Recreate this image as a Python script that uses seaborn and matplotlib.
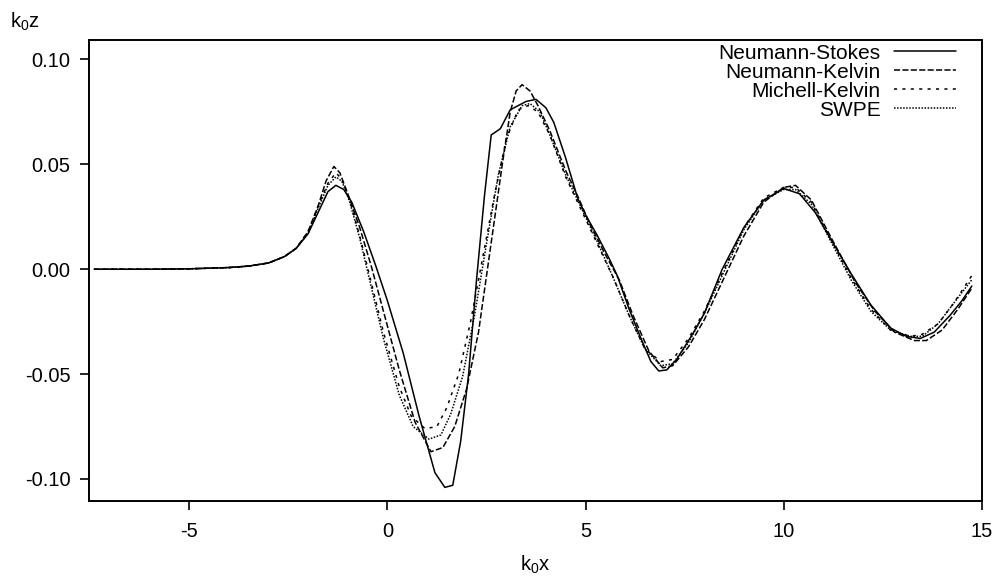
import numpy as np
import pandas as pd
import matplotlib
matplotlib.use("Agg")
import matplotlib.pyplot as plt
import seaborn as sns

# ---- data ----
ns_x = [-7.4, -6, -5, -4, -3.5, -3, -2.6, -2.3, -2.0, -1.75, -1.5, -1.3, -1.1, -0.9, -0.6, -0.3,
        0.0, 0.4, 0.8, 1.2, 1.45, 1.65, 1.85, 2.05, 2.25, 2.45, 2.62, 2.85, 3.1, 3.5, 3.75, 4.0,
        4.2, 4.5, 4.8, 5.0, 5.3, 5.6, 5.8, 6.1, 6.4, 6.65, 6.85, 7.05, 7.3, 7.7, 8.0, 8.45, 9.0,
        9.5, 10.0, 10.4, 10.8, 11.2, 11.7, 12.2, 12.7, 13.1, 13.45, 13.8, 14.2, 14.5, 14.75]
ns_y = [0, 0, 0.0002, 0.0008, 0.0015, 0.003, 0.006, 0.010, 0.017, 0.027, 0.037, 0.040, 0.038, 0.032,
        0.018, 0.002, -0.015, -0.040, -0.070, -0.097, -0.104, -0.103, -0.082, -0.050, -0.005, 0.035,
        0.064, 0.067, 0.076, 0.080, 0.081, 0.077, 0.070, 0.053, 0.034, 0.026, 0.016, 0.005, -0.003,
        -0.019, -0.033, -0.044, -0.0485, -0.048, -0.043, -0.031, -0.021, 0.0, 0.020, 0.033, 0.0385,
        0.036, 0.027, 0.014, -0.002, -0.017, -0.028, -0.032, -0.033, -0.030, -0.022, -0.015, -0.008]

nk_x = [-7.4, -6, -5, -4, -3.5, -3, -2.6, -2.3, -2.0, -1.75, -1.55, -1.35, -1.2, -1.0, -0.7, -0.4,
        -0.1, 0.3, 0.7, 1.1, 1.4, 1.7, 2.0, 2.3, 2.6, 2.9, 3.1, 3.25, 3.4, 3.6, 3.8, 4.1, 4.5, 4.8,
        5.1, 5.5, 5.85, 6.2, 6.6, 6.95, 7.2, 7.6, 8.0, 8.5, 9.0, 9.5, 10.0, 10.3, 10.7, 11.2, 11.8,
        12.3, 12.8, 13.3, 13.6, 14.0, 14.4, 14.75]
nk_y = [0, 0, 0.0002, 0.0008, 0.0015, 0.003, 0.006, 0.010, 0.018, 0.030, 0.042, 0.049, 0.046, 0.036,
        0.020, 0.001, -0.020, -0.048, -0.073, -0.087, -0.085, -0.075, -0.057, -0.030, 0.010, 0.050,
        0.075, 0.085, 0.088, 0.085, 0.078, 0.066, 0.047, 0.035, 0.022, 0.007, -0.005, -0.022, -0.039,
        -0.047, -0.046, -0.037, -0.024, -0.004, 0.016, 0.032, 0.039, 0.040, 0.033, 0.015, -0.006,
        -0.020, -0.030, -0.034, -0.034, -0.029, -0.019, -0.009]

mk_x = [-7.4, -6, -5, -4, -3.5, -3, -2.6, -2.3, -2.0, -1.75, -1.5, -1.3, -1.15, -0.95, -0.7, -0.45,
        -0.1, 0.3, 0.6, 0.95, 1.25, 1.5, 1.8, 2.1, 2.4, 2.7, 3.0, 3.3, 3.55, 3.8, 4.1, 4.5, 4.9, 5.3,
        5.7, 6.1, 6.5, 6.9, 7.2, 7.6, 8.0, 8.5, 9.0, 9.5, 10.0, 10.3, 10.7, 11.2, 11.7, 12.2, 12.7,
        13.2, 13.5, 13.9, 14.3, 14.75]
mk_y = [0, 0, 0.0002, 0.0008, 0.0015, 0.003, 0.006, 0.010, 0.018, 0.030, 0.041, 0.046, 0.043, 0.033,
        0.016, -0.003, -0.030, -0.056, -0.070, -0.076, -0.075, -0.066, -0.050, -0.025, 0.005, 0.035,
        0.062, 0.076, 0.078, 0.075, 0.064, 0.044, 0.028, 0.012, -0.004, -0.022, -0.038, -0.044,
        -0.043, -0.033, -0.020, 0.000, 0.020, 0.034, 0.039, 0.039, 0.032, 0.014, -0.004, -0.019,
        -0.029, -0.032, -0.031, -0.026, -0.016, -0.003]

sw_x = [-7.4, -6, -5, -4, -3.5, -3, -2.6, -2.3, -2.0, -1.75, -1.5, -1.3, -1.15, -0.95, -0.7, -0.45,
        -0.1, 0.3, 0.65, 1.05, 1.35, 1.6, 1.9, 2.2, 2.5, 2.8, 3.1, 3.4, 3.6, 3.85, 4.1, 4.5, 4.9, 5.3,
        5.7, 6.1, 6.5, 6.9, 7.2, 7.6, 8.0, 8.5, 9.0, 9.5, 10.0, 10.3, 10.7, 11.2, 11.7, 12.2, 12.7,
        13.2, 13.5, 13.9, 14.3, 14.75]
sw_y = [0, 0, 0.0002, 0.0008, 0.0015, 0.003, 0.006, 0.010, 0.017, 0.029, 0.040, 0.044, 0.042, 0.032,
        0.015, -0.005, -0.033, -0.060, -0.075, -0.081, -0.079, -0.069, -0.051, -0.022, 0.012, 0.045,
        0.068, 0.078, 0.079, 0.075, 0.064, 0.045, 0.029, 0.013, -0.004, -0.022, -0.038, -0.046,
        -0.045, -0.035, -0.021, -0.001, 0.019, 0.033, 0.038, 0.038, 0.031, 0.013, -0.005, -0.020,
        -0.029, -0.032, -0.032, -0.026, -0.016, -0.005]

series_names = ["Neumann-Stokes", "Neumann-Kelvin", "Michell-Kelvin", "SWPE"]
x_ticks = [-5, 0, 5, 10, 15]
y_ticks = [-0.10, -0.05, 0.00, 0.05, 0.10]

frames = []
for name, xs, ys in zip(series_names, [ns_x, nk_x, mk_x, sw_x], [ns_y, nk_y, mk_y, sw_y]):
    frames.append(pd.DataFrame({"x": xs, "y": ys, "model": name}))
df = pd.concat(frames, ignore_index=True)

sns.set_style("ticks", {"text.color": "black", "xtick.color": "black", "ytick.color": "black",
                        "axes.labelcolor": "black", "axes.edgecolor": "black"})
plt.rcParams["font.family"] = ["Liberation Sans", "DejaVu Sans"]
plt.rcParams["mathtext.fontset"] = "custom"
plt.rcParams["mathtext.rm"] = "Liberation Sans"

fig = plt.figure(figsize=(9.98, 5.77), dpi=100)
ax = fig.add_axes([0.0892, 0.1317, 0.8945, 0.799])

dashes = {
    "Neumann-Stokes": "",
    "Neumann-Kelvin": (4, 1.5),
    "Michell-Kelvin": (2, 3.5),
    "SWPE": (1, 1),
}
palette = {n: "black" for n in series_names}
sns.lineplot(data=df, x="x", y="y", hue="model", style="model", hue_order=series_names,
             style_order=series_names, palette=palette, dashes=dashes, sort=False,
             estimator=None, linewidth=1.1, ax=ax)

ax.set_xlim(-7.53, 15)
ax.set_ylim(-0.1105, 0.1093)
ax.set_xticks(x_ticks)
ax.set_xticklabels([str(t) for t in x_ticks])
ax.set_yticks(y_ticks)
ax.set_yticklabels([f"{t:.2f}" for t in y_ticks])
ax.tick_params(axis="both", labelsize=14.5, length=6.5, width=1.2, direction="out", color="black",
               labelcolor="black")
ax.tick_params(axis="x", pad=8.5)
ax.tick_params(axis="y", pad=7)
for s in ax.spines.values():
    s.set_linewidth(1.4)
    s.set_color("black")

ax.set_xlabel(r"k$_\mathregular{0}$x", fontsize=14.5, labelpad=9)
ax.set_ylabel("")
fig.text(0.01, 0.962, r"k$_\mathregular{0}$z", fontsize=14.5, ha="left", va="center")

leg = ax.legend(loc="upper right", bbox_to_anchor=(0.9806, 1.01), frameon=False, markerfirst=False,
                fontsize=15, handlelength=3.0, labelspacing=0.0, handletextpad=0.62,
                borderaxespad=0.0)

fig.savefig("out.png", dpi=100)
